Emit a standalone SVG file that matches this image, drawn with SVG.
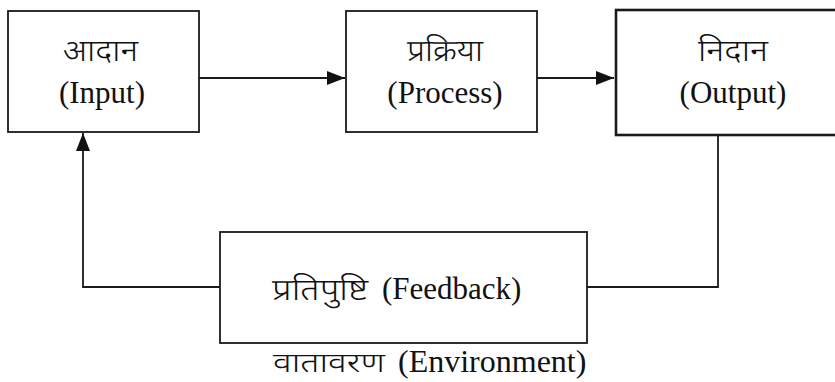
<svg xmlns="http://www.w3.org/2000/svg" width="835" height="382" viewBox="0 0 835 382">
<defs>
<style>
.box{fill:#fff;stroke:#1a1a1a;stroke-width:1.8}
.thick{stroke-width:2.6}
.ln{fill:none;stroke:#1a1a1a;stroke-width:1.8}
.t{font-family:"Liberation Serif","Times New Roman",serif;font-size:31px;fill:#111}
.h{font-family:"Noto Sans Devanagari","Lohit Devanagari","Noto Sans",sans-serif;font-size:30px;font-weight:300;fill:#111}
.m{text-anchor:middle}
</style>
<marker id="ah" viewBox="0 0 18 14" refX="18" refY="7" markerWidth="18" markerHeight="14" markerUnits="userSpaceOnUse" orient="auto">
<path d="M0,0 L18,7 L0,14 Z" fill="#111"/>
</marker>
</defs>
<rect width="835" height="382" fill="#fff"/>
<g id="connectors">
<line class="ln" x1="199" y1="78" x2="345" y2="78" marker-end="url(#ah)"/>
<line class="ln" x1="537" y1="78" x2="614" y2="78" marker-end="url(#ah)"/>
<polyline class="ln" points="718,135 718,287 587,287"/>
<polyline class="ln" points="220,287 83,287 83,133" marker-end="url(#ah)"/>
</g>
<g id="input">
<rect class="box" x="8" y="11" width="191" height="121"/>
<text class="h" x="63" y="61" textLength="75" lengthAdjust="spacingAndGlyphs">आदान</text>
<text class="t m" x="102" y="103">(Input)</text>
</g>
<g id="process">
<rect class="box" x="346" y="11" width="191" height="121"/>
<text class="h" x="407" y="61" textLength="76" lengthAdjust="spacingAndGlyphs">प्रक्रिया</text>
<text class="t m" x="445" y="103">(Process)</text>
</g>
<g id="output">
<rect class="box thick" x="616" y="10" width="240" height="125"/>
<text class="h" x="698" y="61" textLength="70" lengthAdjust="spacingAndGlyphs">निदान</text>
<text class="t m" x="733" y="103">(Output)</text>
</g>
<g id="feedback">
<rect class="box" x="220" y="232" width="367" height="111"/>
<text class="h" x="272" y="300" textLength="96" lengthAdjust="spacingAndGlyphs">प्रतिपुष्टि</text>
<text class="t" x="382" y="299">(Feedback)</text>
</g>
<g id="environment">
<text class="h" x="273" y="372" style="font-size:27px" textLength="112" lengthAdjust="spacingAndGlyphs">वातावरण</text>
<text class="t" x="398" y="372" style="font-size:32px">(Environment)</text>
</g>
</svg>
